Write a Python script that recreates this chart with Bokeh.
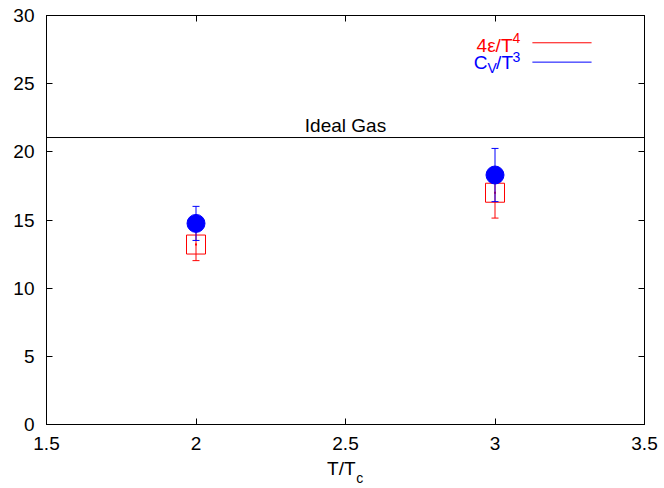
from bokeh.plotting import figure
from bokeh.models import Range1d, FixedTicker, LinearAxis, Whisker, TeeHead, ColumnDataSource, Label, Span
from bokeh.embed import file_html
from bokeh.resources import INLINE

# ---- data ----
t_ratio = [2.0, 3.0]
energy = [13.2, 17.0]          # 4 eps / T^4
energy_err = [1.18, 1.86]
cv = [14.75, 18.3]             # C_V / T^3
cv_err = [1.25, 1.95]
ideal_gas = 21.05
x_ticks = [1.5, 2, 2.5, 3, 3.5]
y_ticks = [0, 5, 10, 15, 20, 25, 30]
x_lim = (1.5, 3.5)
y_lim = (0, 30)
# legend sample lines (data coords)
leg_x = (3.125, 3.323)
leg_y_red = 28.0
leg_y_blue = 26.58
# x axis title pieces: "T/T" with subscript "c"
xlab_main_pos = 2.486
xlab_sub_pos = 2.548

FONT = "Liberation Sans"
FS = "19px"
SFS = "14px"
RED = "#ff0000"
BLUE = "#0000ff"

p = figure(width=664, height=488, output_backend="svg", toolbar_location=None,
           x_range=Range1d(*x_lim), y_range=Range1d(*y_lim),
           min_border_left=46, min_border_right=20, min_border_top=15, min_border_bottom=64)
p.xgrid.visible = False
p.ygrid.visible = False
p.outline_line_color = "black"
p.outline_line_width = 1
p.background_fill_color = "white"
p.border_fill_color = "white"

for ax in [p.xaxis[0], p.yaxis[0]]:
    ax.major_tick_in = 6
    ax.major_tick_out = 0
    ax.minor_tick_line_color = None
    ax.axis_line_color = "black"
    ax.major_tick_line_color = "black"
    ax.major_label_text_font = FONT
    ax.major_label_text_font_size = FS
    ax.major_label_text_color = "black"
p.xaxis[0].ticker = FixedTicker(ticks=x_ticks)
p.yaxis[0].ticker = FixedTicker(ticks=y_ticks)
p.xaxis[0].major_label_standoff = 12
p.yaxis[0].major_label_standoff = 12

# mirrored ticks on top / right (no labels)
top_ax = LinearAxis(ticker=FixedTicker(ticks=x_ticks), major_label_overrides={t: "" for t in x_ticks})
right_ax = LinearAxis(ticker=FixedTicker(ticks=y_ticks), major_label_overrides={t: "" for t in y_ticks})
for ax in [top_ax, right_ax]:
    ax.major_tick_in = 6
    ax.major_tick_out = 0
    ax.minor_tick_line_color = None
    ax.major_label_text_font_size = "0px"
    ax.major_label_standoff = 0
    ax.axis_line_color = "black"
p.add_layout(top_ax, "above")
p.add_layout(right_ax, "right")

# x axis title, as two label-only axes below the main one
def title_axis(pos, text, size, standoff):
    ax = LinearAxis(ticker=FixedTicker(ticks=[pos]), major_label_overrides={pos: text})
    ax.axis_line_color = None
    ax.major_tick_line_color = None
    ax.minor_tick_line_color = None
    ax.major_tick_in = 0
    ax.major_tick_out = 0
    ax.major_label_standoff = standoff
    ax.major_label_text_font = FONT
    ax.major_label_text_font_size = size
    ax.major_label_text_color = "black"
    p.add_layout(ax, "below")

title_axis(xlab_main_pos, "T/T", FS, 5)
title_axis(xlab_sub_pos, "c", SFS, -12)

# ideal gas line
p.add_layout(Span(location=ideal_gas, dimension="width", line_color="black", line_width=1))
p.add_layout(Label(x=2.5, y=ideal_gas, text="Ideal Gas", text_align="center", text_baseline="alphabetic",
                   y_offset=12, text_font=FONT, text_font_size=FS, text_color="black"))

src_e = ColumnDataSource(dict(x=t_ratio, y=energy,
                              lo=[v - e for v, e in zip(energy, energy_err)],
                              hi=[v + e for v, e in zip(energy, energy_err)]))
src_c = ColumnDataSource(dict(x=t_ratio, y=cv,
                              lo=[v - e for v, e in zip(cv, cv_err)],
                              hi=[v + e for v, e in zip(cv, cv_err)]))

p.add_layout(Whisker(source=src_e, base="x", lower="lo", upper="hi", line_color=RED, line_width=1,
                     upper_head=TeeHead(size=7, line_color=RED), lower_head=TeeHead(size=7, line_color=RED),
                     level="glyph"))
p.scatter("x", "y", source=src_e, marker="square", size=19, line_color=RED, fill_color="white", line_width=1)
p.scatter("x", "y", source=src_e, marker="square", size=2, line_color=None, fill_color=RED)
p.add_layout(Whisker(source=src_c, base="x", lower="lo", upper="hi", line_color=BLUE, line_width=1,
                     upper_head=TeeHead(size=7, line_color=BLUE), lower_head=TeeHead(size=7, line_color=BLUE),
                     level="overlay"))
p.scatter("x", "y", source=src_c, marker="circle", size=18, line_color=BLUE, fill_color=BLUE, level="overlay")

# legend
p.segment(x0=[leg_x[0]], x1=[leg_x[1]], y0=[leg_y_red], y1=[leg_y_red], line_color=RED, line_width=1)
p.segment(x0=[leg_x[0]], x1=[leg_x[1]], y0=[leg_y_blue], y1=[leg_y_blue], line_color=BLUE, line_width=1)

def lab(text, dx, dy, align, color, size):
    p.add_layout(Label(x=x_lim[1], y=y_lim[1], x_offset=dx, y_offset=dy, text=text, text_align=align,
                       text_baseline="alphabetic", text_font=FONT, text_font_size=size, text_color=color))

# red: 4ε/T^4
lab("4ε/T", -132, -30, "right", RED, FS)
lab("4", -132, -22, "left", RED, SFS)
# blue: C_V/T^3
lab("C", -157, -47, "right", BLUE, FS)
lab("V", -157, -52, "left", BLUE, SFS)
lab("/T", -148.4, -47, "left", BLUE, FS)
lab("3", -132, -41, "left", BLUE, SFS)

open("out.html", "w").write(file_html(p, INLINE))
